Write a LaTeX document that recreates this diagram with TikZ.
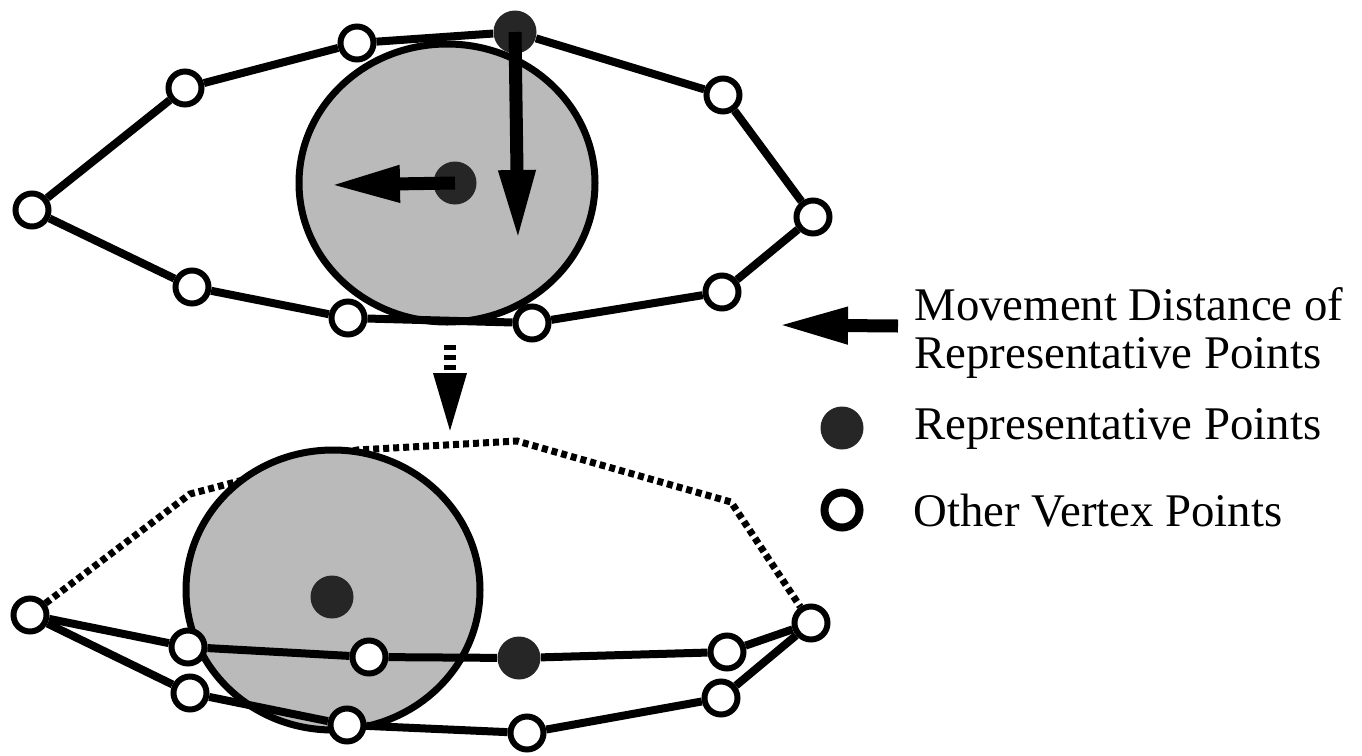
\documentclass[tikz,border=0pt]{standalone}
\usepackage{fontspec}
\setmainfont{Liberation Serif}
\usetikzlibrary{arrows.meta}
\usetikzlibrary{backgrounds}

\tikzset{
  vtx/.style={circle, draw, fill=white, line width=3pt, minimum size=16.5pt, inner sep=0pt},
  rep/.style={circle, fill=black!85, minimum size=21.5pt, inner sep=0pt},
  disk/.style={draw, line width=3.5pt, fill=black!27},
  move/.style={line width=6.5pt, -{Triangle[length=35pt, width=17pt]}},
  trace/.style={line width=3.5pt, dash pattern=on 3pt off 2pt},
  legend/.style={anchor=west, inner sep=0pt, align=left, font=\fontsize{23.4pt}{24pt}\selectfont},
}

\begin{document}
\begin{tikzpicture}[x=0.5pt, y=-0.5pt]
	\useasboundingbox (0,0) rectangle (1362,756);

	% before the move
	\begin{scope}[every node/.style={vtx}]
		\node (u1) at (32,210) {};
		\node (u2) at (185,88) {};
		\node (u3) at (357,43) {};
		\node (u4) at (723,95) {};
		\node (u5) at (813,217) {};
		\node (u6) at (722,292) {};
		\node (u7) at (532,323) {};
		\node (u8) at (348,318) {};
		\node (u9) at (192,287) {};
	\end{scope}
	\node[rep] (p1) at (515,32) {};
	\node[rep] (p2) at (455,183) {};

	\begin{scope}[every edge/.style={draw, line width=4pt}]
		\path (u1) edge (u2);
		\path (u2) edge (u3);
		\path (u3) edge (p1);
		\path (p1) edge (u4);
		\path (u4) edge (u5);
		\path (u5) edge (u6);
		\path (u6) edge (u7);
		\path (u7) edge (u8);
		\path (u8) edge (u9);
		\path (u9) edge (u1);
	\end{scope}

	\coordinate (m1) at (330,185);
	\coordinate (m2) at (518,240);
	\draw[move] (p2.center) -- (m1);
	\draw[move] (p1.center) -- (m2);

	% after the move
	\begin{scope}[every node/.style={vtx}]
		\node (l1) at (30,615) {};
		\node (b1) at (188,647) {};
		\node (b2) at (369,657) {};
		\node (b3) at (727,652) {};
		\node (r1) at (811,623) {};
		\node (b4) at (721,698) {};
		\node (b5) at (527,733) {};
		\node (b6) at (347,725) {};
		\node (b7) at (190,693) {};
	\end{scope}
	\node[rep] (q1) at (519,658) {};
	\node[rep] (q2) at (332,597) {};

	\begin{scope}[every edge/.style={draw, line width=4pt}]
		\path (l1) edge (b1);
		\path (b1) edge (b2);
		\path (b2) edge (q1);
		\path (q1) edge (b3);
		\path (b3) edge (r1);
		\path (r1) edge (b4);
		\path (b4) edge (b5);
		\path (b5) edge (b6);
		\path (b6) edge (b7);
		\path (b7) edge (l1);
	\end{scope}

	\coordinate (d1) at (190,494);
	\coordinate (d2) at (357,450);
	\coordinate (d3) at (517,441);
	\coordinate (d4) at (731,502);

	\begin{scope}[on background layer]
		\draw[disk] (447,183) ellipse [x radius=148, y radius=139];
		\draw[trace] (l1) -- (d1) -- (d2) -- (d3) -- (d4) -- (r1);
		\draw[disk] (333,590) ellipse [x radius=147, y radius=140];
	\end{scope}

	\coordinate (s1) at (450,345);
	\coordinate (s2) at (450,435);
	\draw[line width=6pt, dash pattern=on 2.5pt off 2.5pt,
	      -{Triangle[length=31pt, width=15pt]}] (s1) -- (s2);

	% legend
	\coordinate (k1) at (898,326);
	\coordinate (k2) at (778,325);
	\draw[move] (k1) -- (k2);
	\node[legend] (t1) at (914,333) {Movement Distance of\\Representative Points};
	\node[rep] (k3) at (842,428) {};
	\node[legend] (t2) at (914,429) {Representative Points};
	\node[vtx, line width=4pt, minimum size=17.5pt] (k4) at (842,510) {};
	\node[legend] (t3) at (913,511) {Other Vertex Points};
\end{tikzpicture}
\end{document}
